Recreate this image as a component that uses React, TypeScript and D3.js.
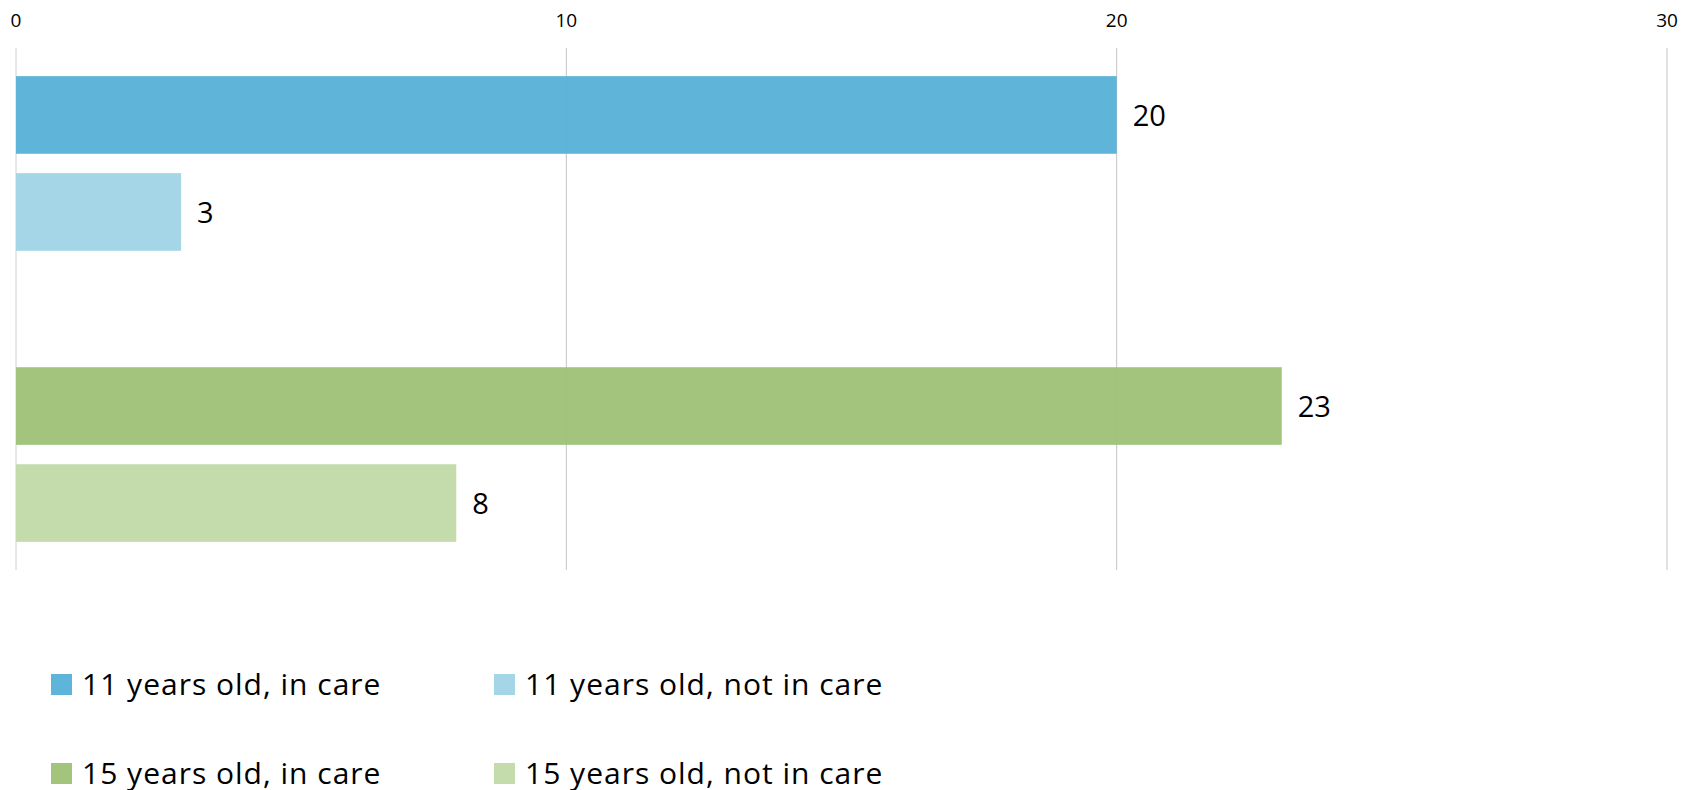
import React from "react";
import * as d3 from "d3";

const seriesNames = [
  "11 years old, in care",
  "11 years old, not in care",
  "15 years old, in care",
  "15 years old, not in care",
];
const seriesValues = [20, 3, 23, 8];
const seriesColors = ["#52AED6", "#9ED3E6", "#9BC073", "#BFD9A6"];
const rowKeys = ["r0", "r1", "gap", "r2", "r3"];
const barRows = ["r0", "r1", "r2", "r3"];
const xTicks = [0, 10, 20, 30];

const W = 1694;
const H = 790;
const FONT = "'Open Sans', 'Noto Sans', sans-serif";

export default function App() {
  const x = d3.scaleLinear().domain([0, 30]).range([16, 1667]);
  const y = d3
    .scaleBand<string>()
    .domain(rowKeys)
    .range([48, 570])
    .paddingInner(0.2)
    .paddingOuter(0.29);

  const legendCols = [51, 494];
  const legendRows = [674, 763];

  return (
    <svg
      width={W}
      height={H}
      style={{ position: "absolute", left: 0, top: 0, display: "block", background: "#fff" }}
    >
      {/* grid */}
      {xTicks.map((t) => (
        <line
          key={"g" + t}
          x1={x(t)}
          x2={x(t)}
          y1={48}
          y2={570}
          stroke={t === 0 ? "#d0d0d0" : "#c4c4c4"}
          strokeWidth={1}
        />
      ))}
      {/* tick labels */}
      {xTicks.map((t) => (
        <text
          key={"t" + t}
          x={x(t)}
          y={27}
          textAnchor="middle"
          fontFamily={FONT}
          fontSize={19}
          fill="#000"
        >
          {t}
        </text>
      ))}
      {/* bars */}
      {seriesValues.map((v, i) => {
        const yy = y(barRows[i])!;
        return (
          <g key={"b" + i}>
            <rect
              x={x(0)}
              y={yy}
              width={x(v) - x(0)}
              height={y.bandwidth()}
              fill={seriesColors[i]}
              fillOpacity={0.93}
            />
            <text
              x={x(v) + 16}
              y={yy + y.bandwidth() / 2 + 11}
              fontFamily={FONT}
              fontSize={29}
              fill="#000"
            >
              {v}
            </text>
          </g>
        );
      })}
      {/* legend */}
      {seriesNames.map((name, i) => {
        const lx = legendCols[i % 2];
        const ly = legendRows[Math.floor(i / 2)];
        return (
          <g key={"l" + i}>
            <rect x={lx} y={ly} width={21} height={21} fill={seriesColors[i]} fillOpacity={0.93} />
            <text
              x={lx + 31}
              y={ly + 21}
              fontFamily={FONT}
              fontSize={30}
              letterSpacing={1}
              fill="#000"
            >
              {name}
            </text>
          </g>
        );
      })}
    </svg>
  );
}
